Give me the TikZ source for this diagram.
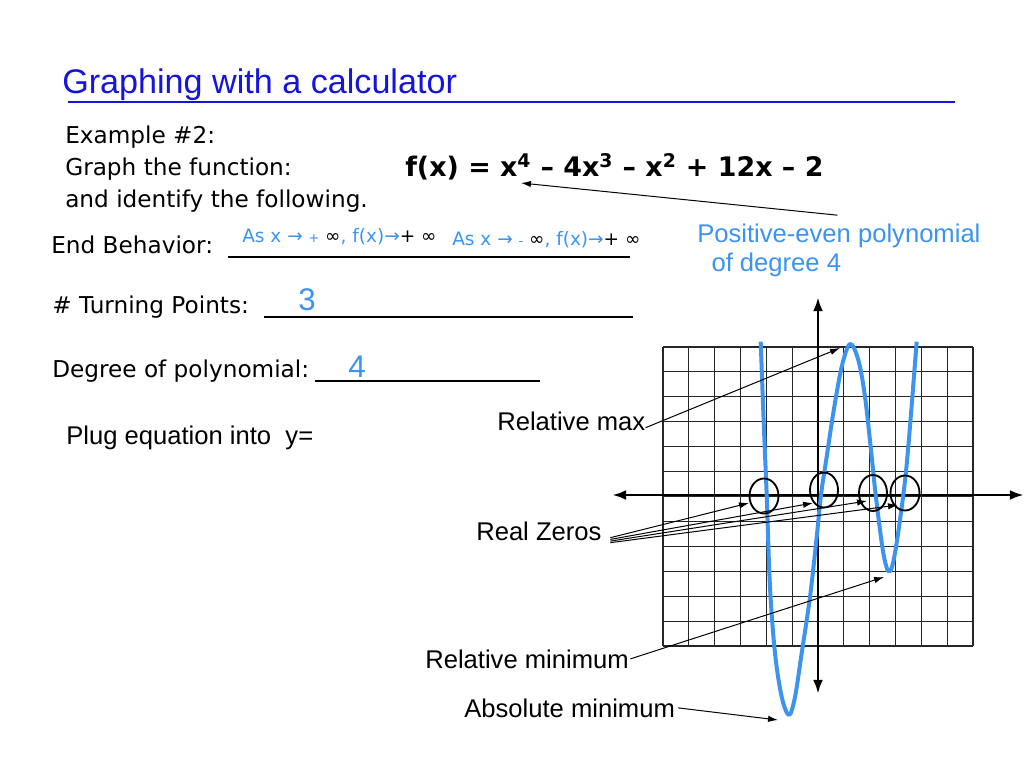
\documentclass[tikz,border=0pt]{standalone}
\usepackage{fontspec}
\setmainfont{Liberation Sans}
\newfontfamily\handfont{DejaVu Sans}
\usepackage{tikz}
\usetikzlibrary{arrows.meta}
\definecolor{TitleBlue}{RGB}{20,20,220}
\definecolor{SkyBlue}{RGB}{60,148,240}

\tikzset{
  txt/.style={anchor=base west, inner sep=0pt},
  hand/.style={txt, font=\handfont\fontsize{16.3}{19}\selectfont},
  lbl/.style={txt, font=\fontsize{18}{21}\selectfont},
  small/.style={txt, font=\handfont\fontsize{13}{15}\selectfont, text=SkyBlue},
  blank/.style={line width=1.4pt},
  gridline/.style={line width=0.8pt, black!85},
  axis/.style={line width=2.1pt, {Latex[length=10pt,width=7pt]}-{Latex[length=10pt,width=7pt]}},
  pointer/.style={line width=0.7pt, -{Latex[length=7pt,width=4.5pt]}},
  zero/.style={line width=1.3pt},
}

\begin{document}
\begin{tikzpicture}[x=0.703pt, y=-0.703pt]
\useasboundingbox[fill=white] (0,0) rectangle (1024,768);
% title
\node[txt, font=\fontsize{24}{28}\selectfont, text=TitleBlue] (title) at (62,93) {Graphing with a calculator};
\draw[line width=1.4pt, TitleBlue] (68,102) -- (955,102);
%
\node[hand] (example) at (65,143) {Example \#2:};
\node[hand] (graphfn) at (65,175) {Graph the function:};
\node[hand] (identify) at (65,207) {and identify the following.};
\node[txt, font=\handfont\bfseries\fontsize{18.9}{22}\selectfont] (fx) at (405,176)
  {f(x) = x\textsuperscript{4} – 4x\textsuperscript{3} – x\textsuperscript{2} + 12x – 2};
\coordinate (xfour) at (521,183);
\node[lbl, text=SkyBlue, align=left] (posdeg) at (697,271) {Positive-even polynomial\\[-1pt]\hspace*{10pt}of degree 4};
\draw[pointer] ([xshift=-1pt,yshift=6pt]posdeg.north) -- (xfour);
%
\node[hand] (endbeh) at (51,253) {End Behavior:};
\draw[blank] (228,257) -- (630,257);
\node[small] (plusinf) at (242,242)
  {As x → {\fontsize{9}{10}\selectfont +} \textcolor{black}{∞}, f(x)→\textcolor{black}{+ ∞}};
\node[small] (minusinf) at (452,245)
  {As x → {\fontsize{9}{10}\selectfont -} \textcolor{black}{∞}, f(x)→\textcolor{black}{+ ∞}};
%
\node[hand] (turning) at (52,313) {\# Turning Points:};
\draw[blank] (264,317) -- (633,317);
\node[txt, font=\fontsize{22}{26}\selectfont, text=SkyBlue] (three) at (298,310) {3};
%
\node[hand] (degree) at (52,377) {Degree of polynomial:};
\draw[blank] (315,381) -- (540,381);
\node[txt, font=\fontsize{22}{26}\selectfont, text=SkyBlue] (four) at (348,377) {4};
%
\node[lbl] (plug) at (66,444) {Plug equation into \ y=};
% grid
\foreach \i in {0,...,12}
  \draw[gridline] ({663+25.83*\i},347) -- ({663+25.83*\i},646);
\foreach \j in {0,...,12}
  \draw[gridline] (663,{347+24.92*\j}) -- (973,{347+24.92*\j});
% axes
\coordinate (ytop) at (818,297);
\coordinate (ybot) at (818,694);
\coordinate (xleft) at (612,495);
\coordinate (xright) at (1024,495);
\draw[axis] (ybot) -- (ytop);
\draw[axis] (xleft) -- (xright);
% graph of f
\draw[SkyBlue, line width=2.8pt, line join=round] plot[smooth, tension=0.55] coordinates {
  (760.7,341.7) (764,430) (766.7,495) (770,587) (775,653) (781.7,697) (789,715)
  (795,697) (801.7,653) (810,597) (816.7,537) (821,495) (826.7,456.7) (833.3,413)
  (841.7,366.7) (850,344) (858.3,360) (865,396.7) (871.7,456.7) (875.7,495)
  (883.3,553) (889.3,571.7) (895,553) (903.3,495) (908.3,446.7) (916.7,341.7)};
% zeros
\draw[zero] (764,496) ellipse [x radius=14.5, y radius=17.5];
\draw[zero] (824,490) ellipse [x radius=14, y radius=17.5];
\draw[zero] (873,493) ellipse [x radius=14, y radius=18];
\draw[zero] (905,493) ellipse [x radius=14.5, y radius=17.5];
% labels and pointers
\node[lbl] (relmax) at (497,430) {Relative max};
\coordinate (maxtip) at (840,348);
\draw[pointer] ([yshift=2pt]relmax.south east) -- (maxtip);
%
\node[lbl] (zeros) at (476,540) {Real Zeros};
\coordinate (zeroa) at (749,503);
\coordinate (zerob) at (813,503);
\coordinate (zeroc) at (867,501);
\coordinate (zerod) at (898,505);
\draw[pointer] ([xshift=6pt,yshift=2pt]zeros.south east) -- (zeroa);
\draw[pointer] ([xshift=6pt,yshift=0.8pt]zeros.south east) -- (zerob);
\draw[pointer] ([xshift=6pt,yshift=-0.4pt]zeros.south east) -- (zeroc);
\draw[pointer] ([xshift=6pt,yshift=-1.5pt]zeros.south east) -- (zerod);
%
\node[lbl] (relmin) at (425,668) {Relative minimum};
\coordinate (mintip) at (884,577);
\draw[pointer] ([xshift=1pt]relmin.east) -- (mintip);
%
\node[lbl] (absmin) at (464,717) {Absolute minimum};
\coordinate (abstip) at (778,720);
\draw[pointer] ([xshift=2pt]absmin.east) -- (abstip);
\end{tikzpicture}
\end{document}
